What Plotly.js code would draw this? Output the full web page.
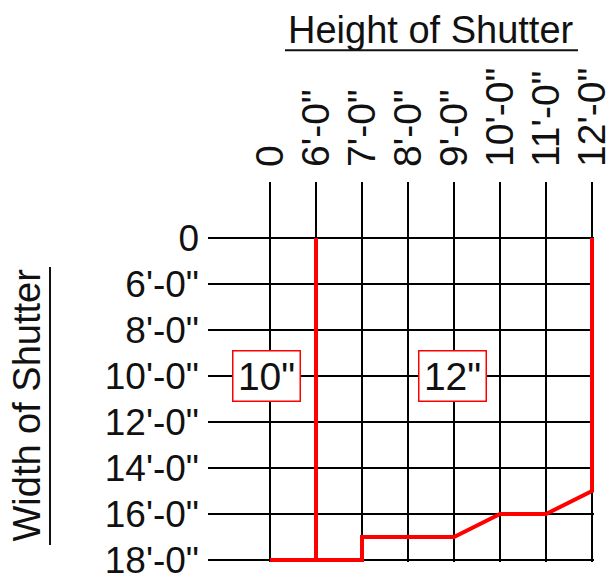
<!DOCTYPE html>
<html>
<head>
<meta charset="utf-8">
<script src="https://cdn.plot.ly/plotly-3.0.1.min.js"></script>
<style>html,body{margin:0;padding:0;background:#fff;}#chart{width:607px;height:576px;}</style>
</head>
<body>
<div id="chart"></div>
<script>
// Height of shutter (columns) and width of shutter (rows)
const heightLabels = ["0", "6'-0\"", "7'-0\"", "8'-0\"", "9'-0\"", "10'-0\"", "11'-0\"", "12'-0\""];
const widthLabels  = ["0", "6'-0\"", "8'-0\"", "10'-0\"", "12'-0\"", "14'-0\"", "16'-0\"", "18'-0\""];

// Boundary between 10" and 12" zones (positions in grid index units)
const dividerX = [1, 1];
const dividerY = [0, 7];
// Outer limit of the 12" zone
const limitX = [0, 2, 2, 4, 5, 6, 7, 7];
const limitY = [7, 7, 6.5, 6.5, 6, 6, 5.5, 0];

// Zone labels
const zoneText = ["10\"", "12\""];
const zoneX = [-0.08, 3.97];
const zoneY = [3, 3];

const idx = a => a.map((_, i) => i);
const FONT = "Liberation Sans, Arial, Helvetica, sans-serif";
const INK = "#111";

const traces = [
  {x: dividerX, y: dividerY, mode: "lines", line: {color: "#ff0000", width: 4}, cliponaxis: false, hoverinfo: "skip"},
  {x: limitX, y: limitY, mode: "lines", line: {color: "#ff0000", width: 4}, cliponaxis: false, hoverinfo: "skip"}
];

const annotations = zoneText.map((t, i) => ({
  x: zoneX[i], y: zoneY[i], xref: "x", yref: "y", text: t, showarrow: false,
  font: {family: FONT, size: 39, color: INK},
  bgcolor: "#ffffff", bordercolor: "#ff0000", borderwidth: 1.5, borderpad: 1,
  width: 64, height: 47
}));

annotations.push({
  xref: "paper", yref: "paper", x: 0.5777, y: 1.40, text: "Height of Shutter", showarrow: false,
  font: {family: FONT, size: 38, color: INK}, xanchor: "center", yanchor: "middle"
});
annotations.push({
  xref: "paper", yref: "paper", x: -0.4676, y: 0.413, text: "Width of Shutter", showarrow: false,
  textangle: -90, font: {family: FONT, size: 38, color: INK}, xanchor: "center", yanchor: "middle"
});

const shapes = [
  {type: "line", xref: "paper", yref: "paper", x0: 0.1995, x1: 0.9585, y0: 1.347, y1: 1.347, line: {color: INK, width: 2}},
  {type: "line", xref: "paper", yref: "paper", x0: -0.4093, x1: -0.4093, y0: 0.776, y1: 0.0447, line: {color: INK, width: 2}}
];

const layout = {
  width: 607, height: 576,
  margin: {l: 208, r: 13, t: 182, b: 14},
  paper_bgcolor: "#ffffff", plot_bgcolor: "#ffffff",
  showlegend: false,
  xaxis: {
    range: [-1.348, 7.043], side: "top",
    tickvals: idx(heightLabels), ticktext: heightLabels, tickangle: -90,
    tickfont: {family: FONT, size: 39, color: INK},
    ticklabelstandoff: 14, ticklabeloverflow: "allow",
    showgrid: true, gridcolor: "#000", gridwidth: 2,
    zeroline: false, showline: false, ticks: "", fixedrange: true
  },
  yaxis: {
    range: [7.043, -1.217],
    tickvals: idx(widthLabels), ticktext: widthLabels,
    tickfont: {family: FONT, size: 37, color: INK},
    ticklabelstandoff: 8, ticklabeloverflow: "allow",
    showgrid: true, gridcolor: "#000", gridwidth: 2,
    zeroline: false, showline: false, ticks: "", fixedrange: true
  },
  annotations: annotations,
  shapes: shapes
};

Plotly.newPlot("chart", traces, layout, {displayModeBar: false, staticPlot: true});
</script>
</body>
</html>
